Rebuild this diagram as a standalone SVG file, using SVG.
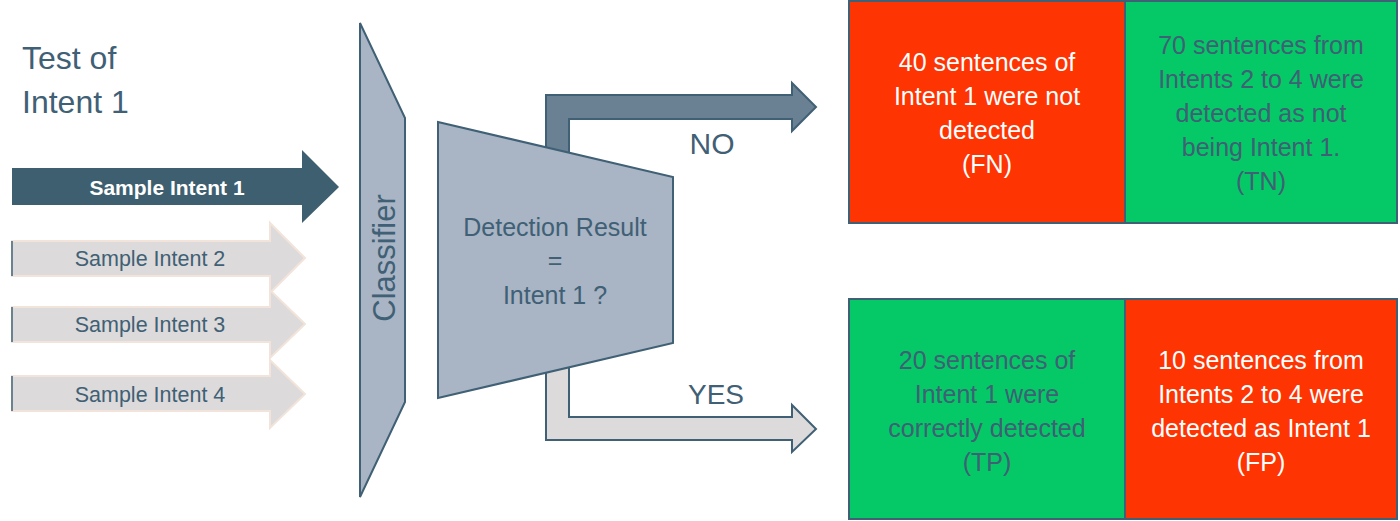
<svg xmlns="http://www.w3.org/2000/svg" width="1400" height="521" viewBox="0 0 1400 521">
<style>
text{font-family:"Liberation Sans",Arial,sans-serif;}
.dark{fill:#3F6075;}
.white{fill:#FFFFFF;}
.grey{fill:#DCDADA;stroke:#F2E4DA;stroke-width:2;}
.slate{fill:#A9B4C4;stroke:#3F6075;stroke-width:2;}
.box{stroke:#3F6075;stroke-width:2;}
.bt{font-size:25px;text-anchor:middle;}
.st{font-size:21.5px;text-anchor:middle;}
</style>
<rect width="1400" height="521" fill="#FFFFFF"/>
<g id="title">
<text x="22" y="69" class="dark" font-size="32">Test of</text>
<text x="22" y="113" class="dark" font-size="32">Intent 1</text>
</g>
<g id="connectors">
<path d="M546,160 V95 H792 V83 L816,107 L792,131 V119 H569 V160 Z" fill="#6A8093" stroke="#3F6075" stroke-width="2"/>
<path d="M546,360 V440 H792 V452 L816,429 L792,405 V417 H569 V360 Z" fill="#DCDADA" stroke="#3F6075" stroke-width="2"/>
</g>
<g id="sample1">
<polygon points="12,168 302,168 302,150 339,187 302,223 302,205 12,205" fill="#3D5F70"/>
<text x="167" y="195" class="white" font-size="21" font-weight="bold" text-anchor="middle">Sample Intent 1</text>
</g>
<g id="sample2">
<polygon class="grey" points="12,241 270,241 270,223 305,258 270,293 270,276 12,276"/>
<line x1="12" y1="241" x2="12" y2="276" stroke="#3F6075" stroke-width="1.5"/>
<text x="150" y="266" class="dark st">Sample Intent 2</text>
</g>
<g id="sample3">
<polygon class="grey" points="12,307 270,307 270,290 305,324 270,358 270,342 12,342"/>
<line x1="12" y1="307" x2="12" y2="342" stroke="#3F6075" stroke-width="1.5"/>
<text x="150" y="332" class="dark st">Sample Intent 3</text>
</g>
<g id="sample4">
<polygon class="grey" points="12,376 270,376 270,360 305,394 270,428 270,411 12,411"/>
<line x1="12" y1="376" x2="12" y2="411" stroke="#3F6075" stroke-width="1.5"/>
<text x="150" y="402" class="dark st">Sample Intent 4</text>
</g>
<g id="classifier">
<polygon class="slate" points="360,23 405,118 405,402 360,497"/>
<text x="0" y="0" class="dark" font-size="31" text-anchor="middle" transform="translate(395,258) rotate(-90)">Classifier</text>
</g>
<g id="detection">
<polygon class="slate" points="438,122 673,177 673,343 438,398"/>
<text x="555" y="236" class="dark" font-size="25" text-anchor="middle">Detection Result</text>
<text x="555" y="269" class="dark" font-size="25" text-anchor="middle">=</text>
<text x="555" y="304" class="dark" font-size="25" text-anchor="middle">Intent 1 ?</text>
</g>
<g id="label-no">
<text x="712" y="154" class="dark" font-size="30" text-anchor="middle">NO</text>
</g>
<g id="label-yes">
<text x="716" y="404" class="dark" font-size="28" text-anchor="middle">YES</text>
</g>
<g id="fn">
<rect class="box" x="849" y="1" width="276" height="222" fill="#FE3403"/>
<text class="white bt" x="987" y="71">40 sentences of</text>
<text class="white bt" x="987" y="105">Intent 1 were not</text>
<text class="white bt" x="987" y="139">detected</text>
<text class="white bt" x="987" y="173">(FN)</text>
</g>
<g id="tn">
<rect class="box" x="1125" y="1" width="272" height="222" fill="#05C966"/>
<text class="dark bt" x="1261" y="54">70 sentences from</text>
<text class="dark bt" x="1261" y="88">Intents 2 to 4 were</text>
<text class="dark bt" x="1261" y="122">detected as not</text>
<text class="dark bt" x="1261" y="156">being Intent 1.</text>
<text class="dark bt" x="1261" y="190">(TN)</text>
</g>
<g id="tp">
<rect class="box" x="849" y="299" width="276" height="220" fill="#05C966"/>
<text class="dark bt" x="987" y="369">20 sentences of</text>
<text class="dark bt" x="987" y="403">Intent 1 were</text>
<text class="dark bt" x="987" y="437">correctly detected</text>
<text class="dark bt" x="987" y="471">(TP)</text>
</g>
<g id="fp">
<rect class="box" x="1125" y="299" width="272" height="220" fill="#FE3403"/>
<text class="white bt" x="1261" y="369">10 sentences from</text>
<text class="white bt" x="1261" y="403">Intents 2 to 4 were</text>
<text class="white bt" x="1261" y="437">detected as Intent 1</text>
<text class="white bt" x="1261" y="471">(FP)</text>
</g>
</svg>
